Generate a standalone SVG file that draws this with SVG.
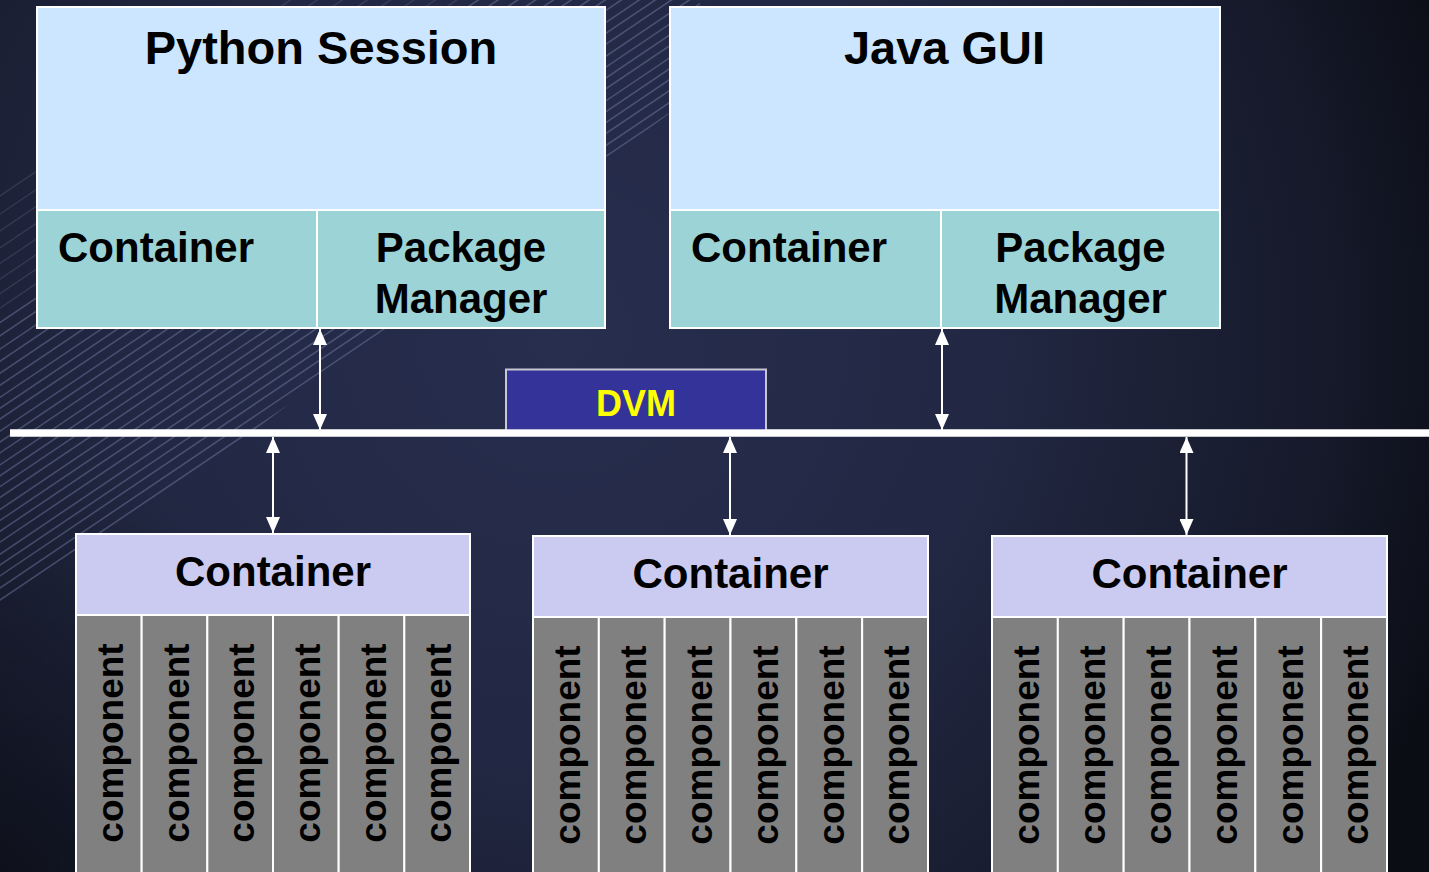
<svg xmlns="http://www.w3.org/2000/svg" width="1429" height="872" viewBox="0 0 1429 872">
  <defs>
    <radialGradient id="bg" cx="560" cy="330" r="950" gradientUnits="userSpaceOnUse">
      <stop offset="0" stop-color="#272e4e"/>
      <stop offset="0.45" stop-color="#222843"/>
      <stop offset="0.8" stop-color="#161a2b"/>
      <stop offset="1" stop-color="#0b0d15"/>
    </radialGradient>
    <radialGradient id="shadeLeft" cx="0" cy="872" r="420" gradientUnits="userSpaceOnUse">
      <stop offset="0" stop-color="#000" stop-opacity="0.35"/>
      <stop offset="1" stop-color="#000" stop-opacity="0"/>
    </radialGradient>
    <clipPath id="stripeBand">
      <polygon points="0,0 700,0 700,90 0,625"/>
    </clipPath>
    <marker id="tip" viewBox="0 0 16 14" refX="16" refY="7" markerWidth="16" markerHeight="14"
            markerUnits="userSpaceOnUse" orient="auto-start-reverse">
      <path d="M0,0 L16,7 L0,14 z" fill="#ffffff"/>
    </marker>
  </defs>

  <style>
    .lbl { font-family: "Liberation Sans", Arial, sans-serif; font-weight: bold; fill: #000; }
    .session { fill: #cce6ff; stroke: #ffffff; stroke-width: 2; }
    .part { fill: #9cd3d6; stroke: #ffffff; stroke-width: 2; }
    .head { fill: #cbcbf1; stroke: #ffffff; stroke-width: 2; }
    .comp { fill: #808080; stroke: #ffffff; stroke-width: 2; }
    .link { stroke: #ffffff; stroke-width: 2; fill: none; marker-start: url(#tip); marker-end: url(#tip); }
    .stripe { stroke: #8a93c0; stroke-opacity: 0.38; stroke-width: 1.6; }
    .stripe-faint { stroke: #8a93c0; stroke-opacity: 0.2; stroke-width: 1.4; }
  </style>

  <!-- backdrop -->
  <rect x="0" y="0" width="1429" height="872" fill="url(#bg)"/>
  <rect x="0" y="0" width="1429" height="872" fill="url(#shadeLeft)"/>
  <g clip-path="url(#stripeBand)">
    <g class="stripe" transform="rotate(-34 0 600)">
      <line x1="-400" y1="600" x2="1000" y2="600"/>
      <line x1="-400" y1="590" x2="1000" y2="590"/>
      <line x1="-400" y1="580" x2="1000" y2="580"/>
      <line x1="-400" y1="571" x2="1000" y2="571"/>
      <line x1="-400" y1="562" x2="1000" y2="562"/>
      <line x1="-400" y1="552" x2="1000" y2="552"/>
      <line x1="-400" y1="543" x2="1000" y2="543"/>
      <line x1="-400" y1="534" x2="1000" y2="534"/>
      <line x1="-400" y1="525" x2="1000" y2="525"/>
      <line x1="-400" y1="515" x2="1000" y2="515"/>
      <line x1="-400" y1="506" x2="1000" y2="506"/>
      <line x1="-400" y1="497" x2="1000" y2="497"/>
      <line x1="-400" y1="488" x2="1000" y2="488"/>
      <line x1="-400" y1="478" x2="1000" y2="478"/>
      <line x1="-400" y1="469" x2="1000" y2="469"/>
      <line x1="-400" y1="460" x2="1000" y2="460"/>
      <line x1="-400" y1="450" x2="1000" y2="450"/>
      <line x1="-400" y1="441" x2="1000" y2="441"/>
      <line x1="-400" y1="432" x2="1000" y2="432"/>
      <line x1="-400" y1="422" x2="1000" y2="422"/>
      <line x1="-400" y1="412" x2="1000" y2="412"/>
      <line x1="-400" y1="402" x2="1000" y2="402"/>
      <line x1="-400" y1="392" x2="1000" y2="392"/>
      <line x1="-400" y1="381" x2="1000" y2="381"/>
      <line x1="-400" y1="370" x2="1000" y2="370"/>
    </g>
    <g class="stripe-faint" transform="rotate(-34 0 600)">
      <line x1="-400" y1="358" x2="1000" y2="358"/>
      <line x1="-400" y1="346" x2="1000" y2="346"/>
      <line x1="-400" y1="334" x2="1000" y2="334"/>
      <line x1="-400" y1="321" x2="1000" y2="321"/>
      <line x1="-400" y1="308" x2="1000" y2="308"/>
      <line x1="-400" y1="294" x2="1000" y2="294"/>
      <line x1="-400" y1="280" x2="1000" y2="280"/>
      <line x1="-400" y1="265" x2="1000" y2="265"/>
    </g>
  </g>

  <!-- connectors -->
  <g id="connectors">
    <rect id="bus" x="10" y="429.5" width="1419" height="7" fill="#ffffff"/>
    <line class="link" x1="320" y1="329" x2="320" y2="430"/>
    <line class="link" x1="942" y1="329" x2="942" y2="430"/>
    <line class="link" x1="273" y1="437" x2="273" y2="533"/>
    <line class="link" x1="730" y1="437" x2="730" y2="535"/>
    <line class="link" x1="1186.5" y1="437" x2="1186.5" y2="535"/>
  </g>

  <!-- Python session -->
  <g id="python-session">
    <rect class="session" x="37" y="7" width="568" height="203"/>
    <rect class="part" x="37" y="210" width="280" height="118"/>
    <rect class="part" x="317" y="210" width="288" height="118"/>
    <text class="lbl" x="321" y="64" font-size="47" text-anchor="middle">Python Session</text>
    <text class="lbl" x="58" y="262" font-size="42">Container</text>
    <text class="lbl" x="461" y="262" font-size="42" text-anchor="middle">Package</text>
    <text class="lbl" x="461" y="313" font-size="42" text-anchor="middle">Manager</text>
  </g>

  <!-- Java GUI -->
  <g id="java-gui">
    <rect class="session" x="670" y="7" width="550" height="203"/>
    <rect class="part" x="670" y="210" width="271" height="118"/>
    <rect class="part" x="941" y="210" width="279" height="118"/>
    <text class="lbl" x="944.5" y="64" font-size="47" text-anchor="middle">Java GUI</text>
    <text class="lbl" x="691" y="262" font-size="42">Container</text>
    <text class="lbl" x="1080.5" y="262" font-size="42" text-anchor="middle">Package</text>
    <text class="lbl" x="1080.5" y="313" font-size="42" text-anchor="middle">Manager</text>
  </g>

  <!-- DVM -->
  <g id="dvm">
    <rect x="506" y="369.5" width="260" height="61" fill="#333399" stroke="#c8c8d4" stroke-width="2"/>
    <text x="636" y="416" font-family="'Liberation Sans', Arial, sans-serif" font-weight="bold" font-size="36" fill="#ffff00" text-anchor="middle">DVM</text>
  </g>
  <rect x="10" y="429.5" width="1419" height="7" fill="#ffffff"/>

  <!-- Container 1 -->
  <g id="container-1">
    <rect class="head" x="76" y="534" width="394" height="81"/>
    <rect class="comp" x="76" y="615" width="65.67" height="262"/>
    <rect class="comp" x="141.67" y="615" width="65.67" height="262"/>
    <rect class="comp" x="207.33" y="615" width="65.67" height="262"/>
    <rect class="comp" x="273" y="615" width="65.67" height="262"/>
    <rect class="comp" x="338.67" y="615" width="65.67" height="262"/>
    <rect class="comp" x="404.33" y="615" width="65.67" height="262"/>
    <text class="lbl" x="273" y="586" font-size="42" text-anchor="middle">Container</text>
    <text class="lbl" font-size="37" text-anchor="middle" transform="translate(123 743) rotate(-90)">component</text>
    <text class="lbl" font-size="37" text-anchor="middle" transform="translate(188.7 743) rotate(-90)">component</text>
    <text class="lbl" font-size="37" text-anchor="middle" transform="translate(254.4 743) rotate(-90)">component</text>
    <text class="lbl" font-size="37" text-anchor="middle" transform="translate(320 743) rotate(-90)">component</text>
    <text class="lbl" font-size="37" text-anchor="middle" transform="translate(385.7 743) rotate(-90)">component</text>
    <text class="lbl" font-size="37" text-anchor="middle" transform="translate(451.4 743) rotate(-90)">component</text>
  </g>

  <!-- Container 2 -->
  <g id="container-2">
    <rect class="head" x="533" y="536" width="395" height="81"/>
    <rect class="comp" x="533" y="617" width="65.83" height="260"/>
    <rect class="comp" x="598.83" y="617" width="65.83" height="260"/>
    <rect class="comp" x="664.67" y="617" width="65.83" height="260"/>
    <rect class="comp" x="730.5" y="617" width="65.83" height="260"/>
    <rect class="comp" x="796.33" y="617" width="65.83" height="260"/>
    <rect class="comp" x="862.17" y="617" width="65.83" height="260"/>
    <text class="lbl" x="730.5" y="588" font-size="42" text-anchor="middle">Container</text>
    <text class="lbl" font-size="37" text-anchor="middle" transform="translate(580.1 745) rotate(-90)">component</text>
    <text class="lbl" font-size="37" text-anchor="middle" transform="translate(646 745) rotate(-90)">component</text>
    <text class="lbl" font-size="37" text-anchor="middle" transform="translate(711.8 745) rotate(-90)">component</text>
    <text class="lbl" font-size="37" text-anchor="middle" transform="translate(777.6 745) rotate(-90)">component</text>
    <text class="lbl" font-size="37" text-anchor="middle" transform="translate(843.5 745) rotate(-90)">component</text>
    <text class="lbl" font-size="37" text-anchor="middle" transform="translate(909.3 745) rotate(-90)">component</text>
  </g>

  <!-- Container 3 -->
  <g id="container-3">
    <rect class="head" x="992" y="536" width="395" height="81"/>
    <rect class="comp" x="992" y="617" width="65.83" height="260"/>
    <rect class="comp" x="1057.83" y="617" width="65.83" height="260"/>
    <rect class="comp" x="1123.67" y="617" width="65.83" height="260"/>
    <rect class="comp" x="1189.5" y="617" width="65.83" height="260"/>
    <rect class="comp" x="1255.33" y="617" width="65.83" height="260"/>
    <rect class="comp" x="1321.17" y="617" width="65.83" height="260"/>
    <text class="lbl" x="1189.5" y="588" font-size="42" text-anchor="middle">Container</text>
    <text class="lbl" font-size="37" text-anchor="middle" transform="translate(1039.1 745) rotate(-90)">component</text>
    <text class="lbl" font-size="37" text-anchor="middle" transform="translate(1105 745) rotate(-90)">component</text>
    <text class="lbl" font-size="37" text-anchor="middle" transform="translate(1170.8 745) rotate(-90)">component</text>
    <text class="lbl" font-size="37" text-anchor="middle" transform="translate(1236.6 745) rotate(-90)">component</text>
    <text class="lbl" font-size="37" text-anchor="middle" transform="translate(1302.5 745) rotate(-90)">component</text>
    <text class="lbl" font-size="37" text-anchor="middle" transform="translate(1368.3 745) rotate(-90)">component</text>
  </g>
</svg>
